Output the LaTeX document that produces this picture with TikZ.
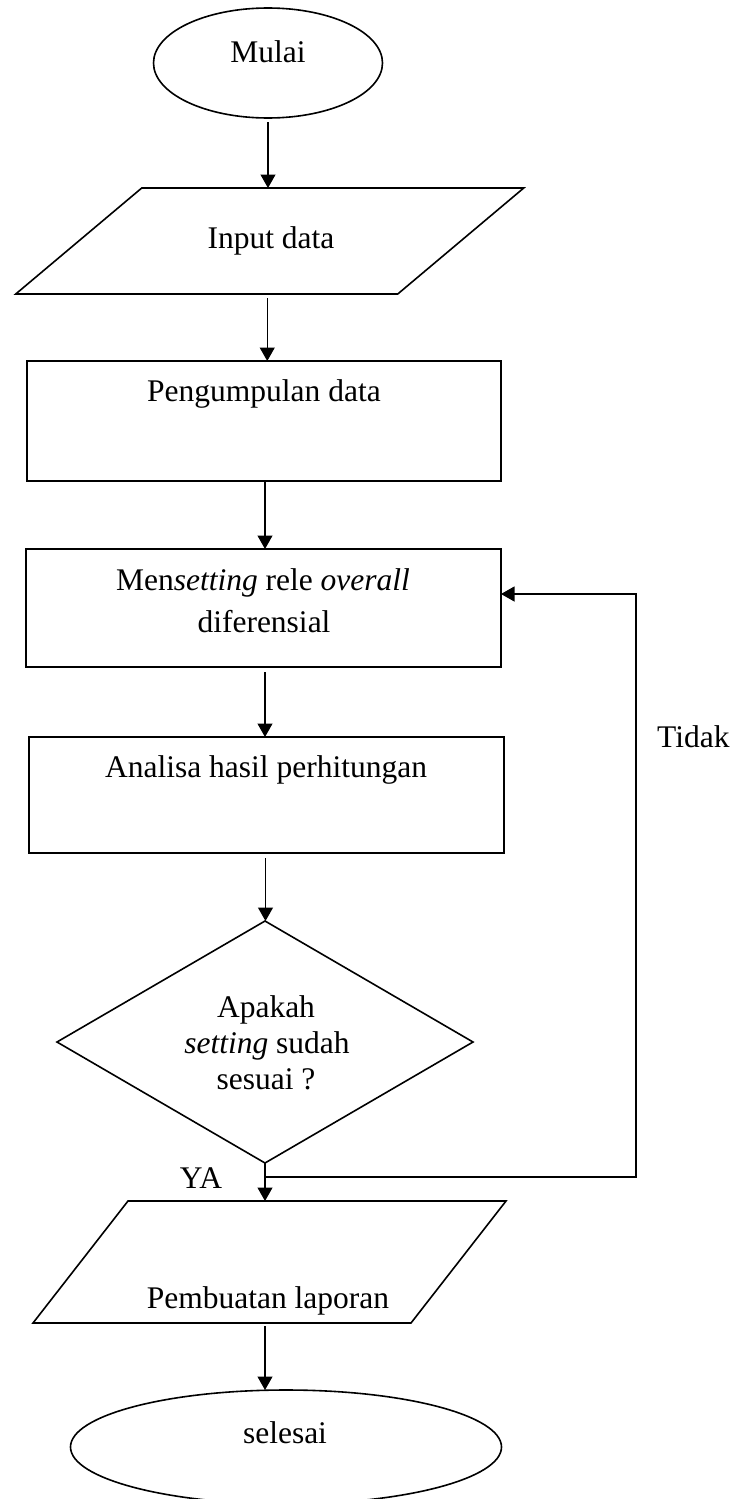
\documentclass[tikz,border=0pt]{standalone}
\usepackage{fontspec}
\setmainfont{Liberation Serif}
\usetikzlibrary{arrows.meta,shapes.geometric,calc}
\tikzset{
  shapeline/.style={draw=black, line width=1.6pt},
  boxnode/.style={shapeline, rectangle, inner sep=0pt, outer sep=0pt},
  termnode/.style={shapeline, ellipse, inner sep=0pt, outer sep=0pt},
  frame/.style={rectangle, inner sep=0pt, outer sep=0pt},
  txt/.style={anchor=base, inner sep=0pt, font=\fontsize{31.5}{38}\selectfont},
  arr/.style={line width=1.2pt, -{Triangle[length=13.5pt,width=15pt]}},
  conn/.style={line width=1.2pt}
}
\begin{document}
\begin{tikzpicture}[x=1pt,y=-1pt]
\useasboundingbox (0,0) rectangle (730,1499);
\fill[white] (0,0) rectangle (730,1499);
\clip (0,0) rectangle (730,1499);

% shapes
\node[termnode, minimum width=229pt, minimum height=110pt] (mulai) at (268,63) {};
\node[frame, minimum width=382pt, minimum height=106pt] (in) at (269.75,241) {};
\draw[shapeline, line join=miter]
  ([xshift=63pt]in.north west) -- ([xshift=63pt]in.north east) --
  ([xshift=-63pt]in.south east) -- ([xshift=-63pt]in.south west) -- cycle;
\node[boxnode, minimum width=474pt, minimum height=120pt] (peng) at (264,421) {};
\node[boxnode, minimum width=475pt, minimum height=118pt] (mens) at (263.5,608) {};
\node[boxnode, minimum width=475pt, minimum height=116pt] (anal) at (266.5,795) {};
\node[frame, minimum width=416pt, minimum height=242pt] (dia) at (265,1042) {};
\draw[shapeline, line join=miter] (dia.north) -- (dia.east) -- (dia.south) -- (dia.west) -- cycle;
\node[frame, minimum width=378pt, minimum height=122pt] (pemb) at (269.5,1262) {};
\draw[shapeline, line join=miter]
  ([xshift=47.5pt]pemb.north west) -- ([xshift=47.5pt]pemb.north east) --
  ([xshift=-47.5pt]pemb.south east) -- ([xshift=-47.5pt]pemb.south west) -- cycle;
\node[termnode, minimum width=431pt, minimum height=114pt] (sel) at (286,1447) {};

% texts
\node[txt] (tmulai) at (268,62) {Mulai};
\node[txt] (tin) at (271,248) {Input data};
\node[txt] (tpeng) at (264,401) {Pengumpulan data};
\node[txt] (tmens1) at (263,590) {Men\textit{setting} rele \textit{overall}};
\node[txt] (tmens2) at (264,632) {diferensial};
\node[txt] (tanal) at (266,777) {Analisa hasil perhitungan};
\node[txt, anchor=base west] (ttidak) at (657,747) {Tidak};
\node[txt] (tdia1) at (266,1017) {Apakah};
\node[txt] (tdia2) at (267,1053) {\textit{setting} sudah};
\node[txt] (tdia3) at (266,1089) {sesuai ?};
\node[txt] (tya) at (201,1188) {YA};
\node[txt] (tpemb) at (268,1308) {Pembuatan laporan};
\node[txt] (tsel) at (285,1443) {selesai};

% connectors
\draw[arr] ([yshift=-4pt]mulai.south) -- (mulai.south |- in.north);
\draw[arr] ([xshift=-2.5pt,yshift=-4pt]in.south) -- ([xshift=-2.5pt]in.south |- peng.north);
\draw[arr] ([xshift=1pt]peng.south) -- ([xshift=1pt]peng.south |- mens.north);
\draw[arr] ([xshift=1.5pt,yshift=-5pt]mens.south) -- ([xshift=1.5pt]mens.south |- anal.north);
\draw[arr] ([xshift=-1pt,yshift=-5pt]anal.south) -- ([xshift=-1pt]anal.south |- dia.north);
\draw[arr] (dia.south) -- (dia.south |- pemb.north);
\draw[arr] ([xshift=-4.5pt,yshift=-3pt]pemb.south) -- ([xshift=-4.5pt]pemb.south |- sel.north);
\coordinate (fbB) at (636,1177);
\draw[arr] (dia.south |- fbB) -- (fbB) |- ([yshift=14pt]mens.east);
\end{tikzpicture}
\end{document}
